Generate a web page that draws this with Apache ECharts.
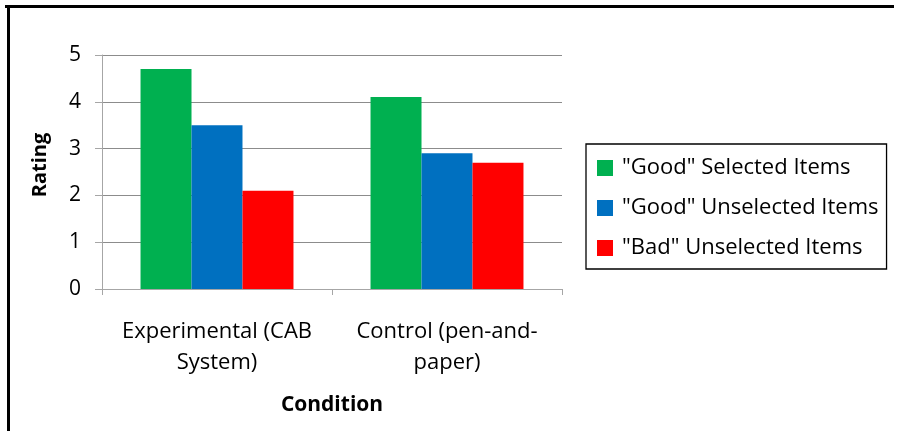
<!DOCTYPE html>
<html>
<head>
<meta charset="utf-8">
<script src="https://cdn.jsdelivr.net/npm/echarts@6/dist/echarts.min.js"></script>
<style>html,body{margin:0;padding:0;background:#fff;}#c{width:900px;height:431px;}</style>
</head>
<body>
<div id="c"></div>
<script>
const categories = ['Experimental (CAB\nSystem)', 'Control (pen-and-\npaper)'];
const seriesNames = ['"Good" Selected Items', '"Good" Unselected Items', '"Bad" Unselected Items'];
const goodSelected = [4.7, 4.1];
const goodUnselected = [3.5, 2.9];
const badUnselected = [2.1, 2.7];
const colors = ['#00B050', '#0070C0', '#FF0000'];
const FONT = 'Open Sans';

const chart = echarts.init(document.getElementById('c'));
const values = [goodSelected, goodUnselected, badUnselected];
chart.setOption({
  animation: false,
  backgroundColor: '#fff',
  textStyle: { fontFamily: FONT, color: '#000' },
  grid: { left: 102, right: 338, top: 55, bottom: 142, containLabel: false },
  legend: {
    orient: 'vertical',
    left: 586, top: 144,
    padding: [13, 8, 10, 11],
    itemGap: 18,
    itemWidth: 16, itemHeight: 16,
    icon: 'rect',
    borderColor: '#000', borderWidth: 1.3,
    textStyle: { fontFamily: FONT, fontSize: 22, color: '#000', lineHeight: 22, padding: [0, 0, 0, 4] },
    data: seriesNames
  },
  xAxis: {
    type: 'category',
    data: categories,
    name: 'Condition',
    nameLocation: 'middle',
    nameGap: 106,
    nameTextStyle: { fontFamily: FONT, fontSize: 21, fontWeight: 'bold', color: '#000' },
    axisLine: { lineStyle: { color: '#a6a6a6', width: 1 } },
    axisTick: { show: true, length: 6, lineStyle: { color: '#a6a6a6' } },
    axisLabel: { fontFamily: FONT, fontSize: 22, color: '#000', lineHeight: 31, margin: 27, interval: 0, hideOverlap: false }
  },
  yAxis: {
    type: 'value',
    min: 0, max: 5, interval: 1,
    name: 'Rating',
    nameLocation: 'middle',
    nameGap: 52,
    nameRotate: 90,
    nameTextStyle: { fontFamily: FONT, fontSize: 20, fontWeight: 'bold', color: '#000', padding: [0, 0, 0, 14] },
    axisLine: { show: true, lineStyle: { color: '#a6a6a6', width: 1 } },
    axisTick: { show: true, length: 7, lineStyle: { color: '#a6a6a6' } },
    axisLabel: { fontFamily: FONT, fontSize: 21, color: '#000', margin: 21 },
    splitLine: { show: true, lineStyle: { color: '#8c8c8c', width: 1 } }
  },
  series: seriesNames.map((n, i) => ({
    name: n,
    type: 'bar',
    data: values[i],
    itemStyle: { color: colors[i] },
    barGap: '0%',
    barCategoryGap: '33.5%'
  })),
  graphic: [
    { type: 'line', shape: { x1: 5, y1: 6.5, x2: 894, y2: 6.5 }, style: { stroke: '#000', lineWidth: 3 } },
    { type: 'line', shape: { x1: 8.5, y1: 5, x2: 8.5, y2: 431 }, style: { stroke: '#000', lineWidth: 3 } }
  ]
});
</script>
</body>
</html>
